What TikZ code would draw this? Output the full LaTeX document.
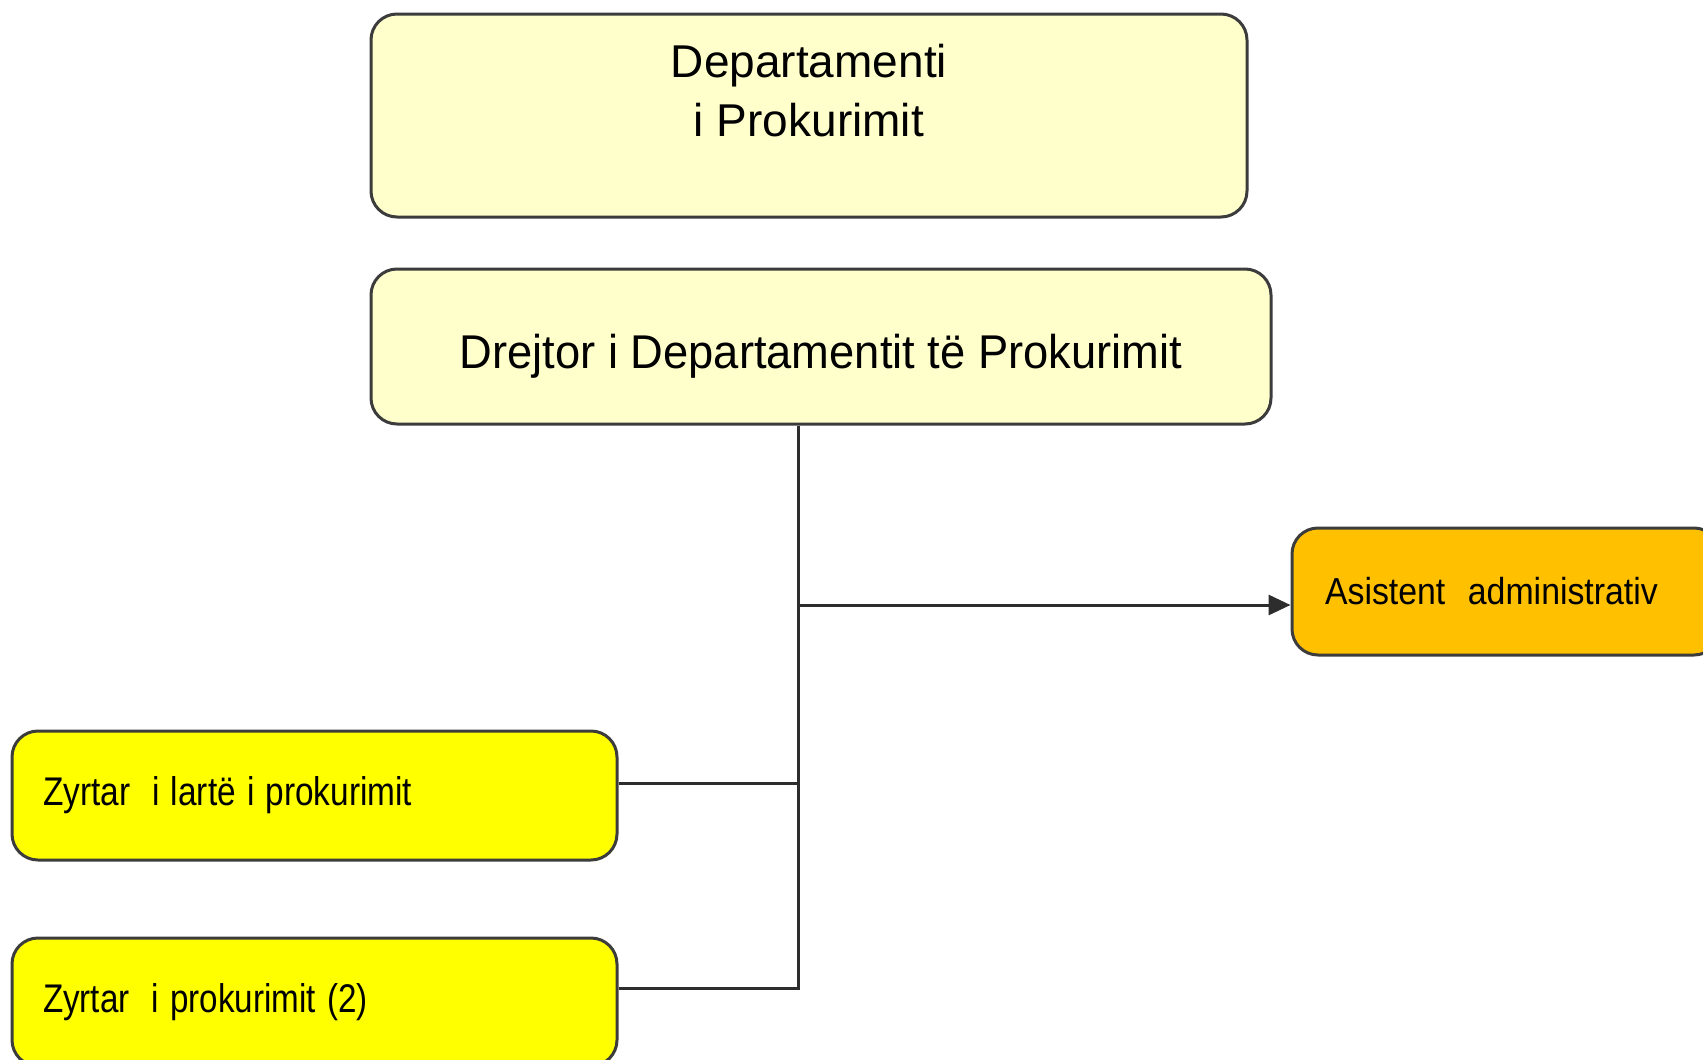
\documentclass[tikz,border=0pt]{standalone}
\usepackage{fontspec}
\usepackage{graphicx}
\setmainfont{Liberation Sans}
\usetikzlibrary{arrows.meta,calc}
\definecolor{paleyellow}{RGB}{255,255,204}
\definecolor{brightyellow}{RGB}{255,255,0}
\definecolor{amber}{RGB}{255,192,0}
\definecolor{edgegray}{RGB}{60,60,60}
\definecolor{wiregray}{RGB}{45,45,45}

\begin{document}
\begin{tikzpicture}[x=0.5pt,y=-0.5pt,
  orgbox/.style={draw=edgegray, line width=1.5pt, rounded corners=13pt, inner sep=0pt},
  leftbox/.style={orgbox, align=left, inner xsep=15.5pt},
  wirestyle/.style={draw=wiregray, line width=1.5pt},
]
\clip (0,0) rectangle (1703,1060);
\fill[white] (0,0) rectangle (1703,1060);

% top-level department (label sits in the upper part of the box)
\node[orgbox, fill=paleyellow, minimum width=438pt, minimum height=101.5pt,
      font=\fontsize{23}{28.5}\selectfont, align=center] (dept) at (809,115.5)
  {\raisebox{3.5pt}[0pt][0pt]{\begin{tabular}{@{}c@{}}Departamenti\\[1pt]i Prokurimit\end{tabular}}};

% director
\node[orgbox, fill=paleyellow, minimum width=450pt, minimum height=77.5pt,
      font=\fontsize{23}{28}\selectfont] (dir) at (821,346.5)
  {\raisebox{-11pt}[0pt][0pt]{\scalebox{0.985}[1.03]{Drejtor i Departamentit të Prokurimit}}};

% administrative assistant
\node[leftbox, fill=amber, inner xsep=16.5pt, text width=181pt, minimum height=63.5pt,
      font=\fontsize{18.8}{22}\selectfont] (asst) at (1506,591.5)
  {\scalebox{0.9}[1]{Asistent\ \ administrativ}};

% procurement officers
\node[leftbox, fill=brightyellow, text width=271.5pt, minimum height=64.5pt,
      font=\fontsize{20}{24}\selectfont] (z1) at (314.5,795.5)
  {\scalebox{0.835}[1]{Zyrtar\ \ i lartë i prokurimit}};
\node[leftbox, fill=brightyellow, text width=271.5pt, minimum height=64pt,
      font=\fontsize{20}{24}\selectfont] (z2) at (314.5,1002)
  {\scalebox{0.83}[1]{Zyrtar\ \ i prokurimit (2)}};

% connectors
\coordinate (hub0) at (798,605);
\coordinate (hub1) at (798,783);
\coordinate (hub2) at (798,988);
\draw[wirestyle] (dir.south -| hub2) -- (hub2) -- (hub2 -| z2.east);
\draw[wirestyle] (hub1) -- (hub1 -| z1.east);
\draw[wirestyle, -{Triangle[length=11pt,width=10pt]}] (hub0) -- (hub0 -| asst.west);
\end{tikzpicture}
\end{document}
